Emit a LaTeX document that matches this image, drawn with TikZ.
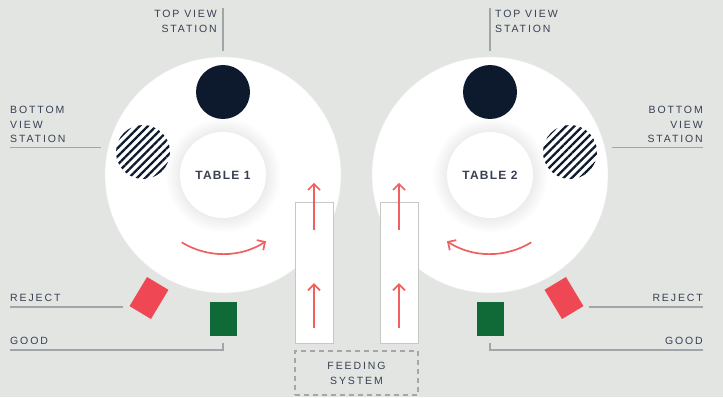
\documentclass[tikz,border=0pt]{standalone}
\usepackage{fontspec}
\setsansfont{Liberation Sans}
\newfontfamily\lblfont[LetterSpace=18]{Liberation Sans}
\newfontfamily\tblfont[LetterSpace=10]{Liberation Sans}
\usetikzlibrary{arrows.meta,patterns.meta,calc}

\definecolor{bgcol}{HTML}{E2E5E2}
\definecolor{navy}{HTML}{0D1A2E}
\definecolor{inkcol}{HTML}{394052}
\definecolor{linecol}{HTML}{A0A5AA}
\definecolor{rejectcol}{HTML}{EF4753}
\definecolor{goodcol}{HTML}{0F6A38}
\definecolor{arrowcol}{HTML}{F0605E}
\pgfdeclareradialshading{hubshadow}{\pgfpointorigin}{color(0bp)=(black!10); color(17bp)=(black!9); color(25bp)=(white); color(50bp)=(white)}

\begin{document}
\begin{tikzpicture}[x=1pt, y=1pt,
    turntable/.style={circle, fill=white, draw=black!7, minimum size=236pt, inner sep=0pt},
    hub/.style={circle, fill=white, minimum size=86pt, inner sep=0pt,
        font=\tblfont\bfseries\fontsize{12}{14}\selectfont, text=inkcol},
    topcam/.style={circle, fill=navy, minimum size=54pt, inner sep=0pt},
    botcam/.style={circle, minimum size=54pt, inner sep=0pt,
        pattern={Lines[angle=45, distance=5.8pt, line width=2.3pt]}, pattern color=navy},
    feeder/.style={rectangle, fill=white, draw=black!22, minimum width=38pt, minimum height=141pt},
    feedsys/.style={rectangle, draw=black!35, dash pattern=on 5pt off 4pt, line width=1.1pt,
        minimum width=123pt, minimum height=44pt, align=center,
        font=\lblfont\fontsize{10.5}{15}\selectfont, text=inkcol},
    rejectbox/.style={rectangle, fill=rejectcol, minimum width=25pt, minimum height=34pt},
    goodbox/.style={rectangle, fill=goodcol, minimum width=27pt, minimum height=34pt},
    lbl/.style={inner sep=0pt, font=\lblfont\fontsize{10.5}{14.5}\selectfont, text=inkcol},
    leader/.style={draw=linecol, line width=1.2pt},
    flow/.style={draw=arrowcol, line width=1.7pt, -{Straight Barb[length=6pt, width=12pt]}}
]
% background and frame
\fill[bgcol] (0,0) rectangle (723,397);

% turntables
\node[turntable] (t1) at (223,222) {};
\node[turntable] (t2) at (490,222) {};
\shade[shading=hubshadow] (t1) circle (58);
\shade[shading=hubshadow] (t2) circle (58);
\node[hub] (hub1) at (t1) {TABLE 1};
\node[hub] (hub2) at (t2) {TABLE 2};

% camera stations
\node[topcam] (top1) at (223,305) {};
\node[topcam] (top2) at (490,305) {};
\node[botcam] (bot1) at (143,245) {};
\node[botcam] (bot2) at (570,245) {};

% rotation
\draw[flow] ($(t1)+(238.5:79)$) arc[start angle=238.5, end angle=303, radius=79];
\draw[flow] ($(t2)+(301.5:79)$) arc[start angle=301.5, end angle=237, radius=79];

% feeding lanes
\node[feeder] (feed1) at (314,124.5) {};
\node[feeder] (feed2) at (399,124.5) {};
\draw[flow] ($(feed1.south)+(0,15)$) -- ++(0,45);
\draw[flow] ($(feed1.north)+(0,-28)$) -- ++(0,47);
\draw[flow] ($(feed2.south)+(0,15)$) -- ++(0,45);
\draw[flow] ($(feed2.north)+(0,-28)$) -- ++(0,47);
\node[feedsys] (feedsys) at (356.5,24) {FEEDING\\SYSTEM};

% output bins
\node[rejectbox, rotate=-31] (rej1) at (149,99) {};
\node[rejectbox, rotate=31] (rej2) at (564,99) {};
\node[goodbox] (good1) at (223,78) {};
\node[goodbox] (good2) at (490,78) {};

% labels, left
\node[lbl, anchor=north east, align=right] (toplbl1) at (217,387) {TOP VIEW\\STATION};
\node[lbl, anchor=north west, align=left] (bvlbl1) at (10,291) {BOTTOM\\VIEW\\STATION};
\node[lbl, anchor=west] (rejlbl1) at (10,99) {REJECT};
\node[lbl, anchor=west] (goodlbl1) at (10,56) {GOOD};

% labels, right
\node[lbl, anchor=north west, align=left] (toplbl2) at (495,387) {TOP VIEW\\STATION};
\node[lbl, anchor=north east, align=right] (bvlbl2) at (703,291) {BOTTOM\\VIEW\\STATION};
\node[lbl, anchor=east] (rejlbl2) at (703,99) {REJECT};
\node[lbl, anchor=east] (goodlbl2) at (703,56) {GOOD};

% leader lines
\draw[leader] ($(top1.north)+(0,14)$) -- ++(0,43);
\draw[leader] ($(top2.north)+(0,14)$) -- ++(0,43);
\draw[leader] ($(bvlbl1.south west)+(0,-5)$) -- ++(91,0);
\draw[leader] ($(bvlbl2.south east)+(0,-5)$) -- ++(-91,0);
\draw[leader] ($(rejlbl1.south west)+(0,-5)$) -- ++(113,0);
\draw[leader] ($(rejlbl2.south east)+(0,-5)$) -- ++(-114,0);
\draw[leader] ($(goodlbl1.south west)+(0,-5)$) -| ($(good1.south)+(0,-7)$);
\draw[leader] ($(goodlbl2.south east)+(0,-5)$) -| ($(good2.south)+(0,-7)$);
\end{tikzpicture}
\end{document}
